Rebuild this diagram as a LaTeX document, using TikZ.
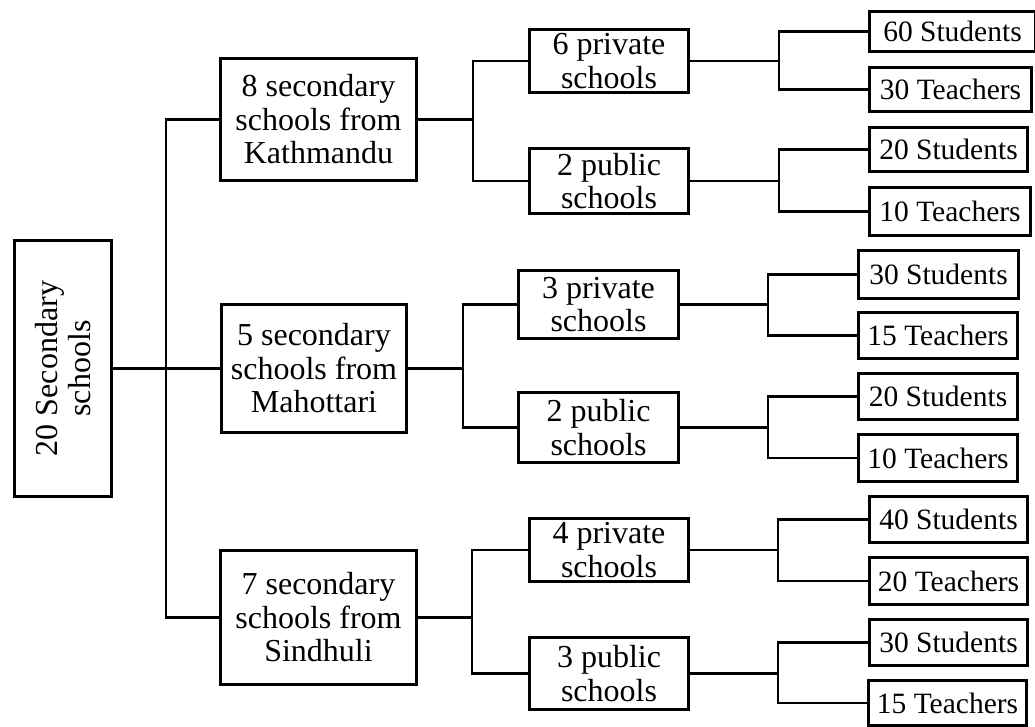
\documentclass[tikz,border=0pt]{standalone}
\usepackage{fontspec}
\setmainfont{Liberation Serif}
\begin{document}
\begin{tikzpicture}[x=1pt,y=-1pt,
  line width=2.6pt,
  box/.style={draw,inner sep=0pt,align=center,font=\fontsize{32}{33.5}\selectfont},
  leaf/.style={draw,inner sep=0pt,align=center,font=\fontsize{29.5}{31}\selectfont,
    minimum width=158pt,minimum height=45pt},
  link/.style={line width=2.6pt}]
\useasboundingbox (0,0) rectangle (1035,726);

% root
\node[box,rotate=90,minimum width=256pt,minimum height=97pt] (root) at (63,368.5)
  {20 Secondary\\schools};

% districts
\node[box,minimum width=196pt,minimum height=122pt] (kat) at (318.5,119.5)
  {8 secondary\\schools from\\Kathmandu};
\node[box,minimum width=185pt,minimum height=128pt] (mah) at (314,368.5)
  {5 secondary\\schools from\\Mahottari};
\node[box,minimum width=196pt,minimum height=134pt] (sin) at (318.5,617.5)
  {7 secondary\\schools from\\Sindhuli};

% school types
\node[box,minimum width=159pt,minimum height=63pt] (p1) at (609,61)    {6 private\\schools};
\node[box,minimum width=159pt,minimum height=65pt] (q1) at (609,181)   {2 public\\schools};
\node[box,minimum width=160pt,minimum height=68pt] (p2) at (598.5,304.5) {3 private\\schools};
\node[box,minimum width=160pt,minimum height=70pt] (q2) at (598.5,427.5) {2 public\\schools};
\node[box,minimum width=159pt,minimum height=63pt] (p3) at (609,550)   {4 private\\schools};
\node[box,minimum width=159pt,minimum height=72pt] (q3) at (609,673.5) {3 public\\schools};

% participants
\node[leaf,minimum width=166pt,minimum height=40pt] (s1) at (952.5,31.5)  {60 Students};
\node[leaf,minimum width=162pt,minimum height=44pt] (t1) at (950.5,89.5)  {30 Teachers};
\node[leaf,minimum width=158pt,minimum height=44pt] (s2) at (948.5,149.5) {20 Students};
\node[leaf,minimum width=161pt,minimum height=48pt] (t2) at (950,211.5)   {10 Teachers};
\node[leaf,minimum width=160pt,minimum height=48pt] (s3) at (938.5,274.5) {30 Students};
\node[leaf,minimum width=159pt,minimum height=46pt] (t3) at (938,335.5)   {15 Teachers};
\node[leaf,minimum width=159pt,minimum height=46pt] (s4) at (938,396.5)   {20 Students};
\node[leaf,minimum width=159pt,minimum height=47pt] (t4) at (938,458)     {10 Teachers};
\node[leaf,minimum width=158pt,minimum height=46pt] (s5) at (948.5,519.5) {40 Students};
\node[leaf,minimum width=158pt,minimum height=47pt] (t5) at (948.5,581)   {20 Teachers};
\node[leaf,minimum width=158pt,minimum height=46pt] (s6) at (948.5,642.5) {30 Students};
\node[leaf,minimum width=158pt,minimum height=45pt] (t6) at (947.5,703)   {15 Teachers};

% branch points
\coordinate (j0) at (166,368.5);
\coordinate (jk) at (473,119.5);
\coordinate (jm) at (463,368.5);
\coordinate (js) at (472,617.5);
\coordinate (j1) at (779,61);
\coordinate (j2) at (779,181);
\coordinate (j3) at (768,304.5);
\coordinate (j4) at (768,427.5);
\coordinate (j5) at (778,550);
\coordinate (j6) at (778,673.5);

% root to districts
\draw[link] (root.south) -- (j0) -- (mah.west);
\draw[link] (kat.west) -| (j0) |- (sin.west);

% districts to school types
\draw[link] (kat.east) -- (jk);
\draw[link] (p1.west) -| (jk) |- (q1.west);
\draw[link] (mah.east) -- (jm);
\draw[link] (p2.west) -| (jm) |- (q2.west);
\draw[link] (sin.east) -- (js);
\draw[link] (p3.west) -| (js) |- (q3.west);

% school types to participants
\draw[link] (p1.east) -- (j1);
\draw[link] (s1.west) -| (j1) |- (t1.west);
\draw[link] (q1.east) -- (j2);
\draw[link] (s2.west) -| (j2) |- (t2.west);
\draw[link] (p2.east) -- (j3);
\draw[link] (s3.west) -| (j3) |- (t3.west);
\draw[link] (q2.east) -- (j4);
\draw[link] (s4.west) -| (j4) |- (t4.west);
\draw[link] (p3.east) -- (j5);
\draw[link] (s5.west) -| (j5) |- (t5.west);
\draw[link] (q3.east) -- (j6);
\draw[link] (s6.west) -| (j6) |- (t6.west);
\end{tikzpicture}
\end{document}
